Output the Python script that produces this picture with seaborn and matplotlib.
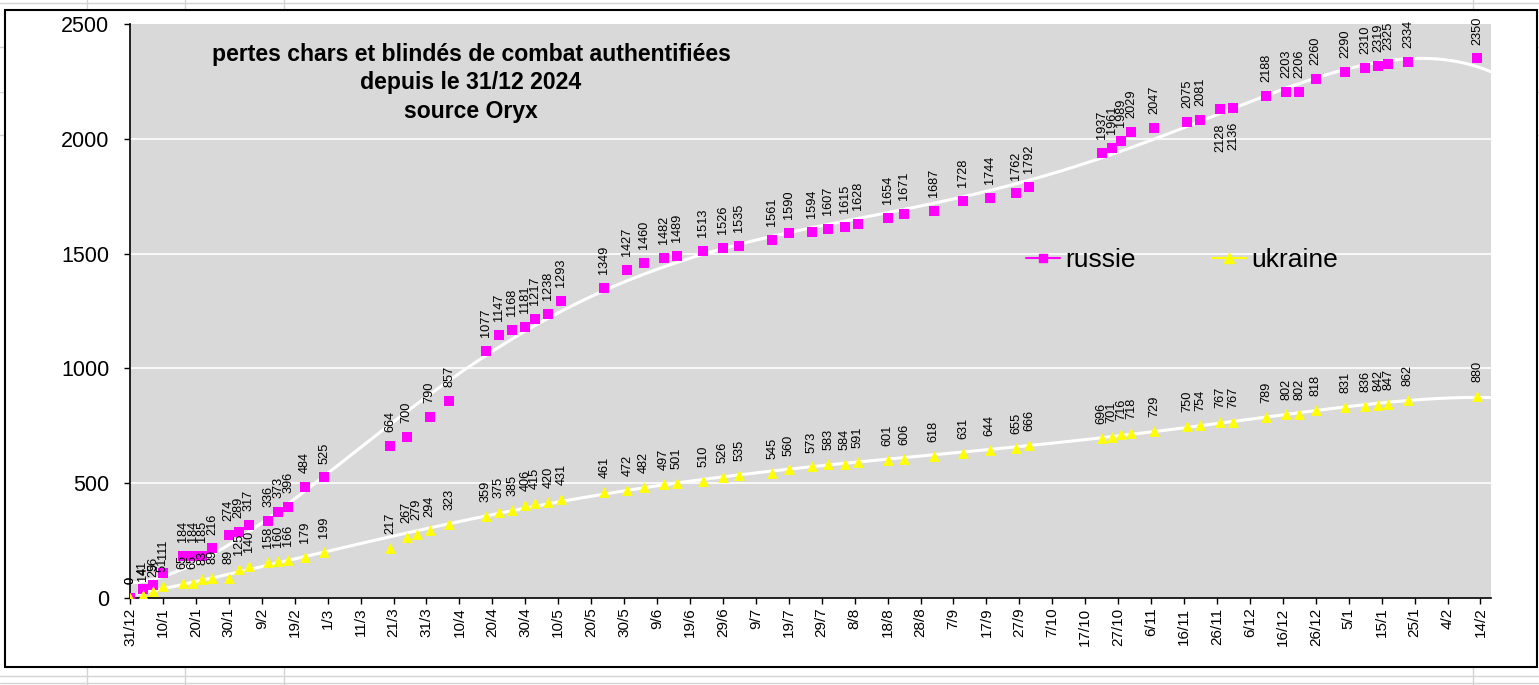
import numpy as np
import pandas as pd
import seaborn as sns
import matplotlib.pyplot as plt
from matplotlib.lines import Line2D
from matplotlib.patches import Rectangle

# dates of the counts
dates = ['2024-12-31', '2025-01-04', '2025-01-07', '2025-01-10', '2025-01-16', '2025-01-19',
         '2025-01-22', '2025-01-25', '2025-01-30', '2025-02-02', '2025-02-05', '2025-02-11',
         '2025-02-14', '2025-02-17', '2025-02-22', '2025-02-28', '2025-03-20', '2025-03-25',
         '2025-03-28', '2025-04-01', '2025-04-07', '2025-04-18', '2025-04-22', '2025-04-26',
         '2025-04-30', '2025-05-03', '2025-05-07', '2025-05-11', '2025-05-24', '2025-05-31',
         '2025-06-05', '2025-06-11', '2025-06-15', '2025-06-23', '2025-06-29', '2025-07-04',
         '2025-07-14', '2025-07-19', '2025-07-26', '2025-07-31', '2025-08-05', '2025-08-09',
         '2025-08-18', '2025-08-23', '2025-09-01', '2025-09-10', '2025-09-18', '2025-09-26',
         '2025-09-30', '2025-10-22', '2025-10-25', '2025-10-28', '2025-10-31', '2025-11-07',
         '2025-11-17', '2025-11-21', '2025-11-27', '2025-12-01', '2025-12-11', '2025-12-17',
         '2025-12-21', '2025-12-26', '2026-01-04', '2026-01-10', '2026-01-14', '2026-01-17',
         '2026-01-23', '2026-02-13']

russie = [0, 41, 56, 111, 184, 184, 185, 216, 274, 289, 317, 336, 373, 396, 484, 525,
          664, 700, np.nan, 790, 857, 1077, 1147, 1168, 1181, 1217, 1238, 1293, 1349, 1427,
          1460, 1482, 1489, 1513, 1526, 1535, 1561, 1590, 1594, 1607, 1615, 1628, 1654, 1671,
          1687, 1728, 1744, 1762, 1792, 1937, 1961, 1989, 2029, 2047, 2075, 2081, 2128, 2136,
          2188, 2203, 2206, 2260, 2290, 2310, 2319, 2325, 2334, 2350]

ukraine = [0, 14, 29, 51, 65, 65, 83, 89, 89, 125, 140, 158, 160, 166, 179, 199,
           217, 267, 279, 294, 323, 359, 375, 385, 406, 415, 420, 431, 461, 472,
           482, 497, 501, 510, 526, 535, 545, 560, 573, 583, 584, 591, 601, 606,
           618, 631, 644, 655, 666, 696, 701, 716, 718, 729, 750, 754, 767, 767,
           789, 802, 802, 818, 831, 836, 842, 847, 862, 880]

# russian labels that Excel put under the marker
russie_below = [2128, 2136]

title = "pertes chars et blindés de combat authentifiées\ndepuis le 31/12 2024\nsource Oryx"

start = pd.Timestamp('2024-12-31')
df = pd.DataFrame({'date': pd.to_datetime(dates), 'russie': russie, 'ukraine': ukraine})
df['jour'] = (df['date'] - start).dt.days

sns.set_style('white', {'axes.facecolor': '#d9d9d9', 'axes.edgecolor': 'black',
                        'text.color': 'black', 'xtick.color': 'black', 'ytick.color': 'black'})
plt.rcParams['font.family'] = ['Liberation Sans', 'DejaVu Sans']

W, H = 1539, 685
fig = plt.figure(figsize=(W / 100, H / 100), dpi=100)

# faint spreadsheet cells around the chart, hidden behind the white chart area
for xc in [87, 185, 284, 1473]:
    fig.add_artist(Line2D([xc / W] * 2, [0, 1], color='#d4d4d4', lw=1, zorder=-3))
for yc in [3, 47, 92, 135, 676, 683]:
    fig.add_artist(Line2D([0, 1], [1 - yc / H] * 2, color='#d4d4d4', lw=1, zorder=-3))
fig.add_artist(Rectangle((5 / W, (H - 667) / H), (1537 - 5) / W, (667 - 10) / H,
                         transform=fig.transFigure, fc='white', ec='none', zorder=-2))

ax = fig.add_axes([130 / W, (H - 598) / H, (1491 - 130) / W, (598 - 24) / H])

xmax = 413.2
for y in [500, 1000, 1500, 2000]:
    ax.axhline(y, color='white', lw=1.2, zorder=1)

# polynomial trend lines (like Excel)
grid = np.linspace(0, xmax, 400)
for col in ['russie', 'ukraine']:
    d = df.dropna(subset=[col])
    coef = np.polyfit(d['jour'] / 400, d[col], 6)
    sns.lineplot(x=grid, y=np.polyval(coef, grid / 400), color='white', lw=2.2, ax=ax, zorder=2)

sns.scatterplot(data=df, x='jour', y='russie', marker='s', color='#ff00ff', s=48,
                linewidth=0, ax=ax, zorder=3)
sns.scatterplot(data=df, x='jour', y='ukraine', marker='^', color='#ffff00', s=60,
                linewidth=0, ax=ax, zorder=3)

for _, r in df.iterrows():
    if not np.isnan(r['russie']):
        below = r['russie'] in russie_below
        ax.annotate(f"{int(r['russie'])}", (r['jour'], r['russie']),
                    xytext=(0, -10 if below else 10), textcoords='offset points',
                    rotation=90, ha='center', va='top' if below else 'bottom',
                    fontsize=9.2, zorder=4)
    ax.annotate(f"{int(r['ukraine'])}", (r['jour'], r['ukraine']),
                xytext=(0, 10), textcoords='offset points',
                rotation=90, ha='center', va='bottom', fontsize=9.2, zorder=4)

ax.set_xlim(0, xmax)
ax.set_ylim(0, 2500)
ticks = list(range(0, 411, 10))
ax.set_xticks(ticks)
ax.set_xticklabels([f"{(start + pd.Timedelta(days=t)).day}/{(start + pd.Timedelta(days=t)).month}"
                    for t in ticks], rotation=90, fontsize=11)
ax.set_yticks([0, 500, 1000, 1500, 2000, 2500])
ax.tick_params(axis='y', labelsize=15.5, length=4, width=1, pad=11, direction='out', left=True)
ax.tick_params(axis='x', length=4, width=1, pad=3, direction='out', bottom=True)
ax.set_xlabel('')
ax.set_ylabel('')
for s in ['top', 'right']:
    ax.spines[s].set_visible(False)
for s in ['left', 'bottom']:
    ax.spines[s].set_linewidth(1.2)

handles = [Line2D([0], [0], color='#ff00ff', marker='s', markersize=6, lw=1.5),
           Line2D([0], [0], color='#ffff00', marker='^', markersize=7, lw=1.5)]
ax.legend(handles, ['russie', 'ukraine'], ncol=2, frameon=False, fontsize=19,
          loc='center left', bbox_to_anchor=(0.658, 0.589), borderaxespad=0, borderpad=0,
          handlelength=1.3, handletextpad=0.2, columnspacing=2.9)

fig.text(471 / W, (H - 83) / H, title, ha='center', va='center', fontsize=16.6,
         fontweight='bold', linespacing=1.3)

# chart frame
fig.add_artist(Rectangle((5 / W, (H - 667) / H), (1537 - 5) / W, (667 - 10) / H,
                         transform=fig.transFigure, fill=False, ec='black', lw=1.5, zorder=5))

fig.savefig('out.png', dpi=100)
